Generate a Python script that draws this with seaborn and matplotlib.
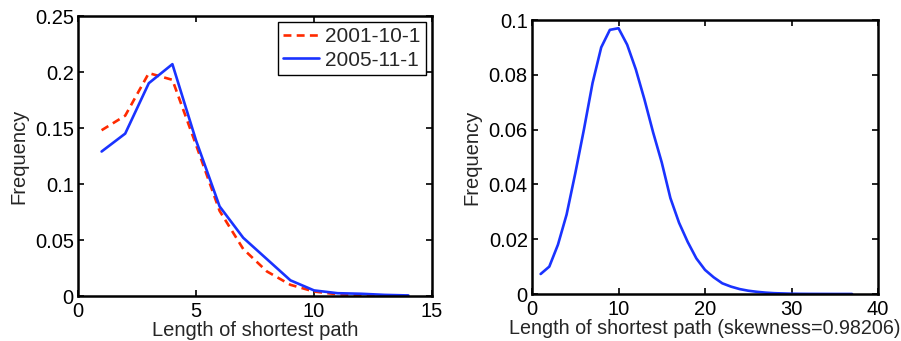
import numpy as np
import pandas as pd
import matplotlib
matplotlib.use("Agg")
import matplotlib.pyplot as plt
import seaborn as sns

# path lengths and frequencies
hops_left = list(range(1, 15))
freq_2001 = [0.148, 0.161, 0.199, 0.193, 0.135, 0.076, 0.042, 0.022,
             0.010, 0.004, 0.0015, 0.0008, 0.0003, 0.0001]
freq_2005 = [0.129, 0.145, 0.190, 0.207, 0.139, 0.080, 0.052, 0.033,
             0.014, 0.005, 0.0025, 0.002, 0.001, 0.0005]

hops_right = list(range(1, 38))
freq_model = [0.0073, 0.0100, 0.0180, 0.0290, 0.0440, 0.0600, 0.0770, 0.0900,
              0.0964, 0.0970, 0.0910, 0.0820, 0.0710, 0.0590, 0.0480, 0.0350,
              0.0260, 0.0190, 0.0130, 0.0088, 0.0061, 0.0039, 0.0027, 0.0018,
              0.0012, 0.0008, 0.0005, 0.0003, 0.0002, 0.0001, 0.00006, 0.00004,
              0.00003, 0.00002, 0.00001, 0.00001, 0.00001]

sns.set_style("ticks")
plt.rcParams["font.family"] = ["Liberation Sans", "DejaVu Sans"]
plt.rcParams["font.size"] = 14.5

df_left = pd.DataFrame({
    "hops": hops_left * 2,
    "freq": freq_2001 + freq_2005,
    "date": ["2001-10-1"] * len(hops_left) + ["2005-11-1"] * len(hops_left),
})
df_right = pd.DataFrame({"hops": hops_right, "freq": freq_model})

fig = plt.figure(figsize=(9.01, 3.41), dpi=100)
ax1 = fig.add_axes([78 / 901, 1 - 296 / 341, 354 / 901, 280 / 341])
ax2 = fig.add_axes([532 / 901, 1 - 294 / 341, 346 / 901, 274 / 341])

sns.lineplot(data=df_left, x="hops", y="freq", hue="date", style="date",
             palette=["#ff2a00", "#1a33ff"], dashes=[(3, 2), ""],
             linewidth=1.9, ax=ax1)
ax1.set_xlim(0, 15)
ax1.set_ylim(0, 0.25)
ax1.set_xticks([0, 5, 10, 15])
ax1.set_yticks([0, 0.05, 0.1, 0.15, 0.2, 0.25])
ax1.set_yticklabels(["0", "0.05", "0.1", "0.15", "0.2", "0.25"])
ax1.set_xlabel("Length of shortest path", labelpad=0)
ax1.set_ylabel("Frequency", labelpad=5)
leg = ax1.legend(loc="upper right", fancybox=False, edgecolor="black",
                 framealpha=1, borderaxespad=0.3, handlelength=1.7,
                 borderpad=0.25, labelspacing=0.2, handletextpad=0.3,
                 fontsize=15)
leg.get_frame().set_linewidth(1.0)

sns.lineplot(data=df_right, x="hops", y="freq", color="#1a33ff",
             linewidth=1.9, ax=ax2)
ax2.set_xlim(0, 40)
ax2.set_ylim(0, 0.1)
ax2.set_xticks([0, 10, 20, 30, 40])
ax2.set_yticks([0, 0.02, 0.04, 0.06, 0.08, 0.1])
ax2.set_yticklabels(["0", "0.02", "0.04", "0.06", "0.08", "0.1"])
ax2.set_xlabel("Length of shortest path (skewness=0.98206)", labelpad=0,
               fontsize=14.2)
ax2.set_ylabel("Frequency", labelpad=5)

for ax in (ax1, ax2):
    for s in ax.spines.values():
        s.set_visible(True)
        s.set_linewidth(1.8)
        s.set_color("black")
    ax.tick_params(direction="in", top=True, right=True, length=4,
                   width=1.2, labelsize=14.5, colors="black")
    ax.tick_params(axis="x", pad=4.5)
    ax.tick_params(axis="y", pad=3)

fig.savefig("out.png", dpi=100)
